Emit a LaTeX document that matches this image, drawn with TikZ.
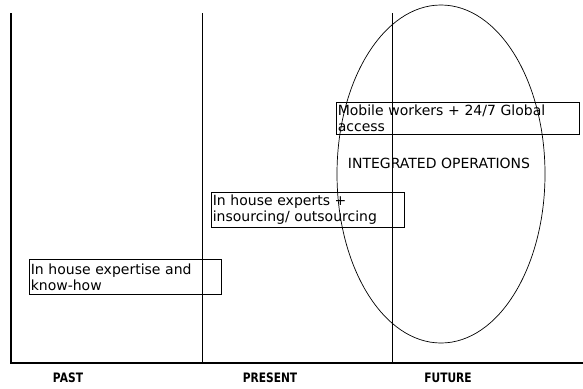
\documentclass[tikz,border=0pt]{standalone}
\usepackage{fontspec}
\setmainfont{DejaVu Sans}
\newfontfamily\erafont[FakeStretch=0.82]{DejaVu Sans}
\usetikzlibrary{shapes.geometric}

\begin{document}
\begin{tikzpicture}[
  x=1pt,
  y=-1pt,
  axis/.style={
    line width=2.8pt,
    line join=miter
  },
  divider/.style={
    line width=0.8pt
  },
  stage/.style={
    draw,
    rectangle,
    line width=0.6pt,
    anchor=north west,
    align=left,
    inner xsep=1.5pt,
    inner ysep=2pt,
    font=\fontsize{14}{16}\selectfont
  },
  era/.style={
    font=\erafont\fontsize{13}{15}\selectfont\bfseries
  },
  >=latex
]

\useasboundingbox (0,0) rectangle (583,388);

% Axes
\coordinate (origin) at (11,363);
\coordinate (ytop) at (11,13);
\coordinate (xend) at (585,363);
\draw[axis] (ytop) -- (origin) -- (xend);

% Dividers between eras
\foreach \x/\name in {202/present,392/future} {
  \coordinate (\name-top) at (\x,13);
  \coordinate (\name-bot) at (\x,363);
  \draw[divider] (\name-top) -- (\name-bot);
}

% Ellipse
\node[draw, ellipse, line width=0.7pt, inner sep=0pt,
  minimum width=208pt, minimum height=338pt] (io) at (441,174) {};
\node[font=\fontsize{14}{16}\selectfont] (iolabel) at (439,163) {INTEGRATED OPERATIONS};

% Stages
\node[stage, text width=240pt, minimum height=32pt] (mobile) at (336,102)
  {Mobile workers + 24/7 Global\\access};
\node[stage, text width=190pt, minimum height=35pt] (experts) at (211,192)
  {In house experts +\\insourcing/ outsourcing};
\node[stage, text width=189pt, minimum height=35pt] (expertise) at (29,259)
  {In house expertise and\\know-how};

% Era labels
\node[era] (past) at (68,378) {PAST};
\node[era] (present) at (270,378) {PRESENT};
\node[era] (future) at (448,378) {FUTURE};

\end{tikzpicture}
\end{document}
